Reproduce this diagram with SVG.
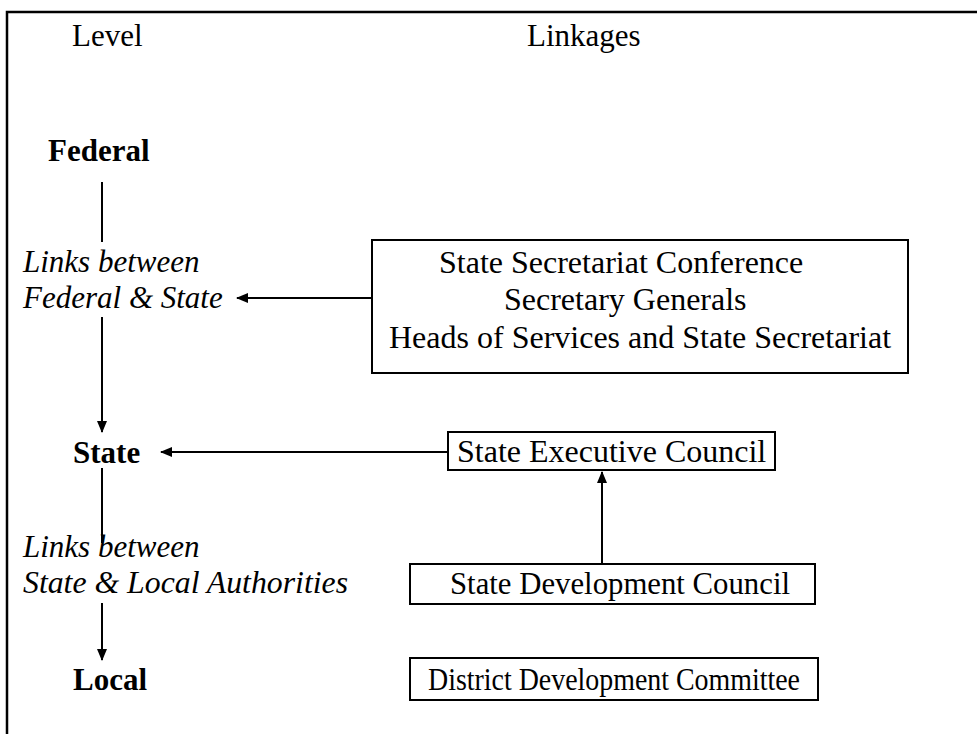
<svg xmlns="http://www.w3.org/2000/svg" width="977" height="734" viewBox="0 0 977 734">
  <defs>
    <style>
      text { font-family: "Liberation Serif", "Times New Roman", serif; font-size: 31px; fill: #000; }
      .b { font-weight: bold; }
      .i { font-style: italic; }
      .t { font-size: 32px; }
      .box { fill: #fff; stroke: #000; stroke-width: 2; }
      .ln { fill: none; stroke: #000; stroke-width: 2; }
    </style>
    <marker id="ah" viewBox="0 0 12 10" refX="11" refY="5" markerWidth="12" markerHeight="10" markerUnits="userSpaceOnUse" orient="auto">
      <path d="M0,0 L12,5 L0,10 Z" fill="#000"/>
    </marker>
  </defs>

  <rect width="977" height="734" fill="#fff"/>
  <!-- outer frame (continues past the right and bottom edges) -->
  <path d="M7,740 V12 H985" fill="none" stroke="#000" stroke-width="2.5"/>

  <!-- column headings -->
  <g id="headings">
    <text x="72" y="46">Level</text>
    <text x="527" y="46">Linkages</text>
  </g>

  <!-- levels -->
  <g id="level-federal"><text class="b" x="48" y="161">Federal</text></g>
  <g id="link-federal-state">
    <text class="i" x="23" y="272">Links between</text>
    <text class="i" x="23" y="308">Federal &amp; State</text>
  </g>
  <g id="level-state"><text class="b" x="73" y="463">State</text></g>
  <g id="link-state-local">
    <text class="i" x="23" y="557">Links between</text>
    <text class="i" x="23" y="593" textLength="325" lengthAdjust="spacingAndGlyphs">State &amp; Local Authorities</text>
  </g>
  <g id="level-local"><text class="b" x="73" y="690">Local</text></g>

  <!-- linkage bodies -->
  <g id="secretariat">
    <rect class="box" x="372" y="240" width="536" height="133"/>
    <text class="t" x="439" y="273">State Secretariat Conference</text>
    <text class="t" x="504" y="310">Secretary Generals</text>
    <text class="t" x="389" y="348">Heads of Services and State Secretariat</text>
  </g>
  <g id="executive-council">
    <rect class="box" x="448" y="432" width="327" height="38"/>
    <text class="t" x="457" y="462">State Executive Council</text>
  </g>
  <g id="development-council">
    <rect class="box" x="410" y="564" width="405" height="40"/>
    <text class="t" x="450" y="594" textLength="340" lengthAdjust="spacingAndGlyphs">State Development Council</text>
  </g>
  <g id="district-committee">
    <rect class="box" x="410" y="658" width="408" height="42"/>
    <text class="t" x="428" y="690" textLength="372" lengthAdjust="spacingAndGlyphs">District Development Committee</text>
  </g>

  <!-- connectors -->
  <g id="connectors">
    <line class="ln" x1="102" y1="182" x2="102" y2="242"/>
    <line class="ln" x1="102" y1="317" x2="102" y2="432" marker-end="url(#ah)"/>
    <line class="ln" x1="102" y1="468" x2="102" y2="543"/>
    <line class="ln" x1="102" y1="603" x2="102" y2="660" marker-end="url(#ah)"/>
    <line class="ln" x1="372" y1="298" x2="237" y2="298" marker-end="url(#ah)"/>
    <line class="ln" x1="448" y1="452" x2="161" y2="452" marker-end="url(#ah)"/>
    <line class="ln" x1="602" y1="564" x2="602" y2="472" marker-end="url(#ah)"/>
  </g>
</svg>
